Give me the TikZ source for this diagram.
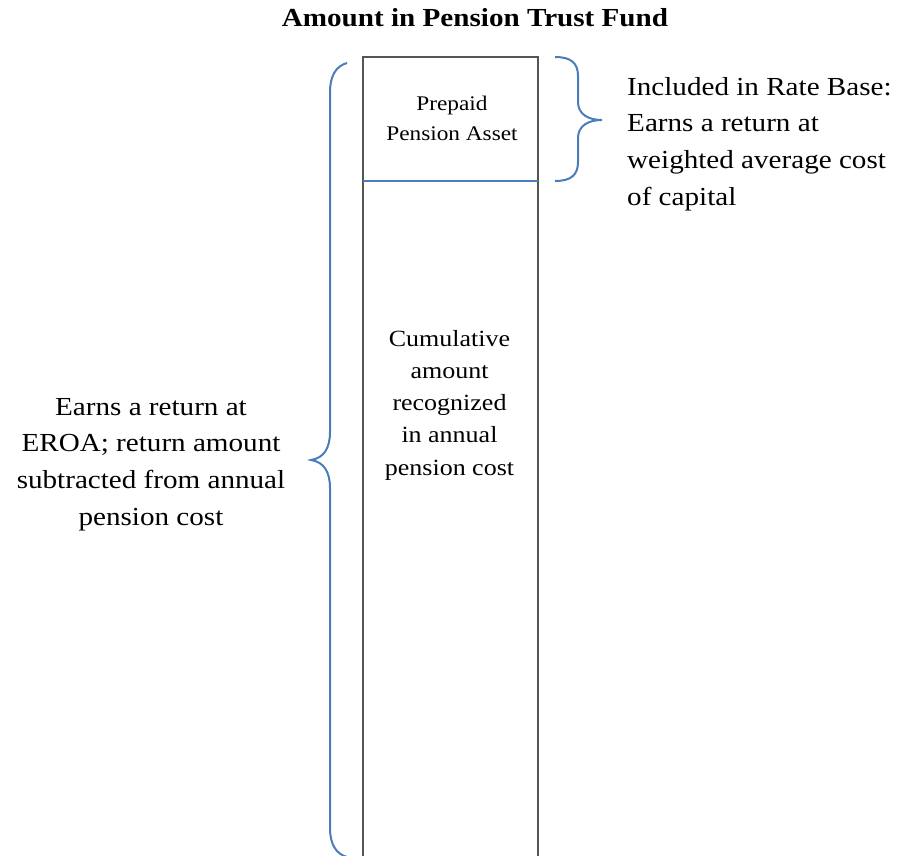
\documentclass[tikz,border=0pt]{standalone}
\usepackage{fontspec}
\setmainfont{Liberation Serif}[FakeStretch=1.12]
\definecolor{braceblue}{HTML}{4A7EBB}
\definecolor{boxgray}{HTML}{555555}
\begin{document}
\begin{tikzpicture}[x=1pt,y=-1pt,
  bracestyle/.style={draw=braceblue,line width=2pt},
  boxstyle/.style={draw=boxgray,line width=1.4pt},
  bigtext/.style={font=\fontsize{26}{36.6}\selectfont,inner sep=0pt},
  midtext/.style={font=\fontsize{23.2}{32.2}\selectfont,inner sep=0pt,align=center},
  smalltext/.style={font=\fontsize{20.8}{29}\selectfont,inner sep=0pt,align=center}]
\useasboundingbox (0,0) rectangle (899,856);
% title
\node[font=\fontsize{26}{30}\selectfont\bfseries,anchor=base,inner sep=0pt] (title) at (475,27) {Amount in Pension Trust Fund};
% column
\coordinate (boxtl) at (363,57);
\coordinate (boxbr) at (538,880);
\draw[boxstyle] (363,880) -- (boxtl) -- (538,57) -- (538,880);
\coordinate (divl) at (363,181);
\coordinate (divr) at (538,181);
\draw[bracestyle] (divl) -- (divr);
% texts in column (base anchor = baseline of the last line)
\node[smalltext,anchor=base] (prepaid) at (452,140) {Prepaid\\Pension Asset};
\node[midtext,anchor=base] (cumul) at (449.5,475) {Cumulative\\amount\\recognized\\in annual\\pension cost};
% right brace
\draw[bracestyle] (555,57) .. controls (571,57) and (578,63) .. (578,76) -- (578,102)
  .. controls (578,114) and (588,120) .. (602,120)
  .. controls (588,120) and (578,126) .. (578,138) -- (578,162)
  .. controls (578,175) and (571,181) .. (555,181);
\node[bigtext,anchor=base west,align=left] (right) at (627,205) {Included in Rate Base:\\Earns a return at\\weighted average cost\\of capital};
% left brace
\draw[bracestyle] (347,63) .. controls (336,66) and (330,76) .. (330,92) -- (330,432)
  .. controls (330,448) and (324,458) .. (311,460)
  .. controls (324,462) and (330,472) .. (330,488) -- (330,828)
  .. controls (330,844) and (336,854) .. (347,857);
\node[bigtext,anchor=base,align=center] (left) at (151,525) {Earns a return at\\EROA; return amount\\subtracted from annual\\pension cost};
\end{tikzpicture}
\end{document}
